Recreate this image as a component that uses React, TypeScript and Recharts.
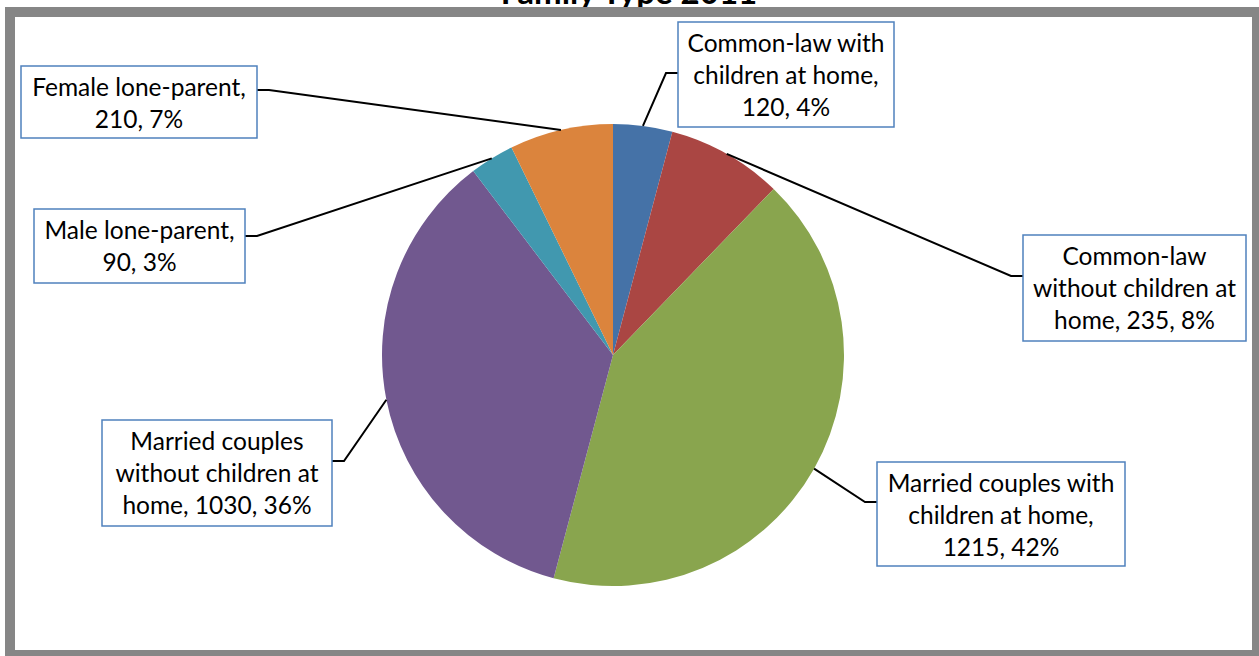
import { PieChart, Pie, Cell } from 'recharts';

// 各家庭类型的数值（2011）
const categories = [
  'Common-law with children at home',
  'Common-law without children at home',
  'Married couples with children at home',
  'Married couples without children at home',
  'Male lone-parent',
  'Female lone-parent',
];
const values = [120, 235, 1215, 1030, 90, 210];
const colors = ['#4572A7', '#AA4643', '#89A54E', '#71588F', '#4198AF', '#DB843D'];
// 每行放几个词（标签折行）
const wordsPerLine = [[2, 3, 2], [1, 3, 3], [3, 3, 2], [2, 3, 3], [2, 2], [2, 2]];

// 标签框的位置，side 表示引线接在框的哪一边
const labelBoxes = [
  { x: 678, y: 22, w: 216, h: 105, leaderY: 73, side: 'left' },
  { x: 1023, y: 235, w: 223, h: 106, leaderY: 276, side: 'left' },
  { x: 877, y: 462, w: 248, h: 104, leaderY: 502, side: 'left' },
  { x: 102, y: 420, w: 230, h: 106, leaderY: 461, side: 'right' },
  { x: 34, y: 209, w: 211, h: 74, leaderY: 236, side: 'right' },
  { x: 21, y: 66, w: 236, h: 72, leaderY: 90, side: 'right' },
];

const data = categories.map((name, i) => ({ name, value: values[i] }));

const FONT = 'Lato, "Open Sans", sans-serif';

function splitLines(text: string, counts: number[]) {
  const words = text.split(' ');
  const lines: string[] = [];
  let k = 0;
  counts.forEach(c => {
    lines.push(words.slice(k, k + c).join(' '));
    k += c;
  });
  return lines;
}

const renderLabel = (props: any) => {
  const { cx, cy, midAngle, outerRadius, index, value, percent, name } = props;
  const rad = Math.PI / 180;
  // 引线指向扇区外沿的中点
  const ex = cx + outerRadius * Math.cos(-midAngle * rad);
  const ey = cy + outerRadius * Math.sin(-midAngle * rad);
  const b = labelBoxes[index];
  const bx = b.side === 'left' ? b.x : b.x + b.w;
  const elbowX = b.side === 'left' ? bx - 12 : bx + 12;
  const text = `${name}, ${value}, ${Math.round(percent * 100)}%`;
  const lines = splitLines(text, wordsPerLine[index]);
  return (
    <g key={`label-${index}`}>
      <polyline
        points={`${ex},${ey} ${elbowX},${b.leaderY} ${bx},${b.leaderY}`}
        fill="none"
        stroke="#000"
        strokeWidth={2}
      />
      <rect x={b.x} y={b.y} width={b.w} height={b.h} fill="#fff" stroke="#4F81BD" strokeWidth={1.5} />
      <text
        x={b.x + b.w / 2}
        y={b.y + 30}
        textAnchor="middle"
        fontFamily={FONT}
        fontSize={24.5}
        fill="#000"
      >
        {lines.map((l, i) => (
          <tspan key={i} x={b.x + b.w / 2} dy={i === 0 ? 0 : 32}>
            {l}
          </tspan>
        ))}
      </text>
    </g>
  );
};

export default function App() {
  return (
    <div style={{ position: 'absolute', left: 0, top: 0, width: 1259, height: 656, overflow: 'hidden', background: '#fff' }}>
      <svg width={1259} height={656} style={{ position: 'absolute', left: 0, top: 0 }}>
        <text x={629} y={4} textAnchor="middle" fontFamily={FONT} fontWeight="bold" fontSize={33} fill="#000">
          Family Type 2011
        </text>
      </svg>
      <div
        style={{
          position: 'absolute',
          left: 5,
          top: 7,
          width: 1257,
          height: 653,
          boxSizing: 'border-box',
          border: '10px solid #868686',
          background: '#fff',
        }}
      />
      <div style={{ position: 'absolute', left: 0, top: 0 }}>
        <PieChart width={1259} height={656} margin={{ top: 0, right: 0, bottom: 0, left: 0 }}>
          <Pie
            data={data}
            dataKey="value"
            nameKey="name"
            cx={613}
            cy={355}
            outerRadius={231}
            startAngle={90}
            endAngle={-270}
            stroke="none"
            label={renderLabel}
            labelLine={false}
            isAnimationActive={false}
          >
            {data.map((d, i) => (
              <Cell key={d.name} fill={colors[i]} />
            ))}
          </Pie>
        </PieChart>
      </div>
    </div>
  );
}
